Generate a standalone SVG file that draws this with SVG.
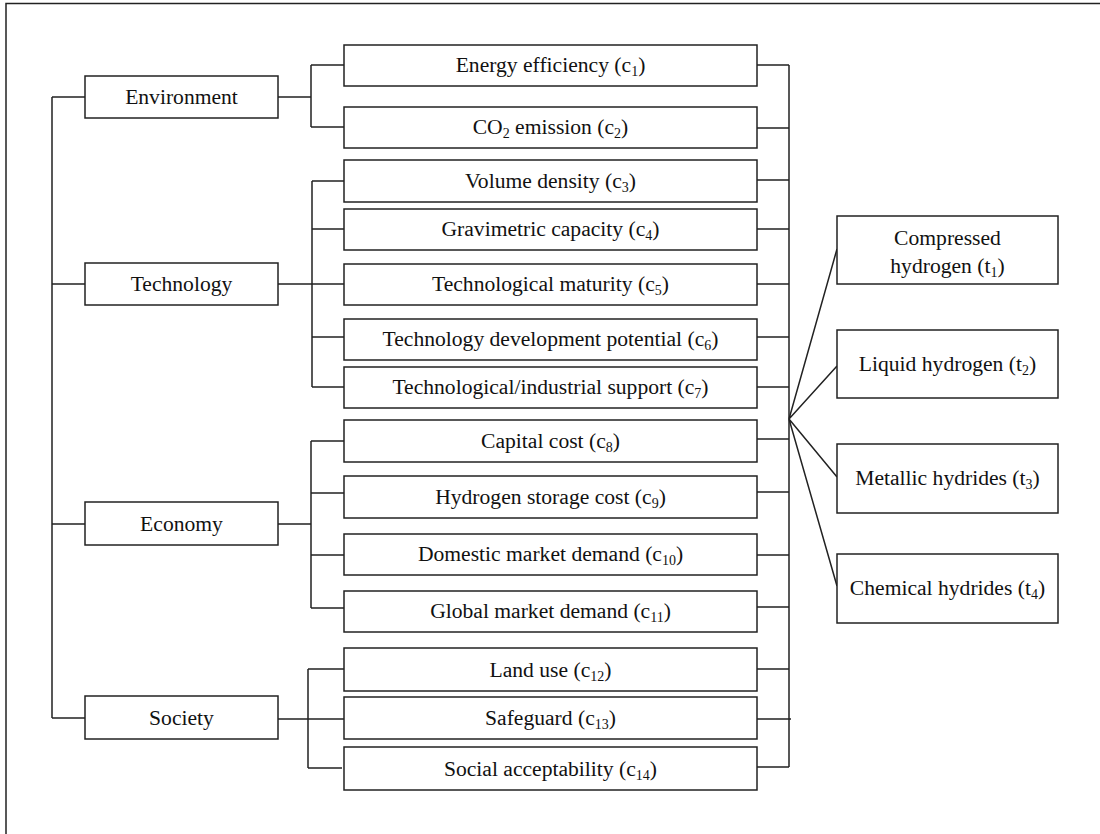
<svg xmlns="http://www.w3.org/2000/svg" width="1100" height="834" viewBox="0 0 1100 834">
<style>
.bx{fill:#fff;stroke:#222;stroke-width:1.5}
.t{font-family:"Liberation Serif","Times New Roman",serif;font-size:21.6px;fill:#111;text-anchor:middle}
.sub{font-size:14px}
.ln{fill:none;stroke:#222;stroke-width:1.5}
.fr{fill:none;stroke:#222;stroke-width:1.5}
</style>
<rect width="1100" height="834" fill="#fff"/>
<path class="fr" d="M6,834 V3.5 H1100"/>
<g id="connectors">
<path class="ln" d="M52,97 V718 M52,97 H85 M52,284 H85 M52,524 H85 M52,718 H85"/>
<path class="ln" d="M278,97 H311 M311,65 V127 M311,65 H344 M311,127 H344"/>
<path class="ln" d="M278,284 H344 M312,181 V387 M312,181 H344 M312,229 H344 M312,337 H344 M312,387 H344"/>
<path class="ln" d="M278,524 H311 M311,441 V608 M311,441 H344 M311,493 H344 M311,555 H344 M311,608 H344"/>
<path class="ln" d="M278,719 H344 M308,669 V768 M308,669 H344 M308,768 H342"/>
<path class="ln" d="M789,65 V767 M757,65 H789 M757,128 H789 M757,180 H789 M757,229 H789 M757,284 H789 M757,337 H789 M757,387 H789 M757,439 H789 M757,492 H789 M757,555 H789 M757,607 H789 M757,669 H789 M757,719 H791 M757,767 H789"/>
<path class="ln" d="M789,419 L837,249 M789,419 L837,366 M789,419 L837,477 M789,419 L837,586"/>
</g>
<g id="environment"><rect class="bx" x="85" y="76" width="193" height="42"/><text class="t" x="181.5" y="104">Environment</text></g>
<g id="technology"><rect class="bx" x="85" y="263" width="193" height="42"/><text class="t" x="181.5" y="291">Technology</text></g>
<g id="economy"><rect class="bx" x="85" y="502" width="193" height="43"/><text class="t" x="181.5" y="531">Economy</text></g>
<g id="society"><rect class="bx" x="85" y="696" width="193" height="43"/><text class="t" x="181.5" y="725">Society</text></g>
<g id="c1"><rect class="bx" x="344" y="45" width="413" height="41"/><text class="t" x="550.5" y="72">Energy efficiency (c<tspan class="sub" dy="4">1</tspan><tspan dy="-4">)</tspan></text></g>
<g id="c2"><rect class="bx" x="344" y="107" width="413" height="41"/><text class="t" x="550.5" y="134">CO<tspan class="sub" dy="4">2</tspan><tspan dy="-4"> emission (c</tspan><tspan class="sub" dy="4">2</tspan><tspan dy="-4">)</tspan></text></g>
<g id="c3"><rect class="bx" x="344" y="160" width="413" height="42"/><text class="t" x="550.5" y="188">Volume density (c<tspan class="sub" dy="4">3</tspan><tspan dy="-4">)</tspan></text></g>
<g id="c4"><rect class="bx" x="344" y="209" width="413" height="41"/><text class="t" x="550.5" y="236">Gravimetric capacity (c<tspan class="sub" dy="4">4</tspan><tspan dy="-4">)</tspan></text></g>
<g id="c5"><rect class="bx" x="344" y="264" width="413" height="41"/><text class="t" x="550.5" y="291">Technological maturity (c<tspan class="sub" dy="4">5</tspan><tspan dy="-4">)</tspan></text></g>
<g id="c6"><rect class="bx" x="344" y="319" width="413" height="41"/><text class="t" x="550.5" y="346">Technology development potential (c<tspan class="sub" dy="4">6</tspan><tspan dy="-4">)</tspan></text></g>
<g id="c7"><rect class="bx" x="344" y="367" width="413" height="41"/><text class="t" x="550.5" y="394">Technological/industrial support (c<tspan class="sub" dy="4">7</tspan><tspan dy="-4">)</tspan></text></g>
<g id="c8"><rect class="bx" x="344" y="420" width="413" height="42"/><text class="t" x="550.5" y="448">Capital cost (c<tspan class="sub" dy="4">8</tspan><tspan dy="-4">)</tspan></text></g>
<g id="c9"><rect class="bx" x="344" y="476" width="413" height="42"/><text class="t" x="550.5" y="504">Hydrogen storage cost (c<tspan class="sub" dy="4">9</tspan><tspan dy="-4">)</tspan></text></g>
<g id="c10"><rect class="bx" x="344" y="534" width="413" height="41"/><text class="t" x="550.5" y="561">Domestic market demand (c<tspan class="sub" dy="4">10</tspan><tspan dy="-4">)</tspan></text></g>
<g id="c11"><rect class="bx" x="344" y="591" width="413" height="41"/><text class="t" x="550.5" y="618">Global market demand (c<tspan class="sub" dy="4">11</tspan><tspan dy="-4">)</tspan></text></g>
<g id="c12"><rect class="bx" x="344" y="648" width="413" height="43"/><text class="t" x="550.5" y="677">Land use (c<tspan class="sub" dy="4">12</tspan><tspan dy="-4">)</tspan></text></g>
<g id="c13"><rect class="bx" x="344" y="697" width="413" height="42"/><text class="t" x="550.5" y="725">Safeguard (c<tspan class="sub" dy="4">13</tspan><tspan dy="-4">)</tspan></text></g>
<g id="c14"><rect class="bx" x="344" y="747" width="413" height="43"/><text class="t" x="550.5" y="776">Social acceptability (c<tspan class="sub" dy="4">14</tspan><tspan dy="-4">)</tspan></text></g>
<g id="t1"><rect class="bx" x="837" y="216" width="221" height="68"/><text class="t" x="947.5" y="245">Compressed</text><text class="t" x="947.5" y="273">hydrogen (t<tspan class="sub" dy="4">1</tspan><tspan dy="-4">)</tspan></text></g>
<g id="t2"><rect class="bx" x="837" y="330" width="221" height="68"/><text class="t" x="947.5" y="371">Liquid hydrogen (t<tspan class="sub" dy="4">2</tspan><tspan dy="-4">)</tspan></text></g>
<g id="t3"><rect class="bx" x="837" y="444" width="221" height="69"/><text class="t" x="947.5" y="485">Metallic hydrides (t<tspan class="sub" dy="4">3</tspan><tspan dy="-4">)</tspan></text></g>
<g id="t4"><rect class="bx" x="837" y="554" width="221" height="69"/><text class="t" x="947.5" y="595">Chemical hydrides (t<tspan class="sub" dy="4">4</tspan><tspan dy="-4">)</tspan></text></g>
</svg>
